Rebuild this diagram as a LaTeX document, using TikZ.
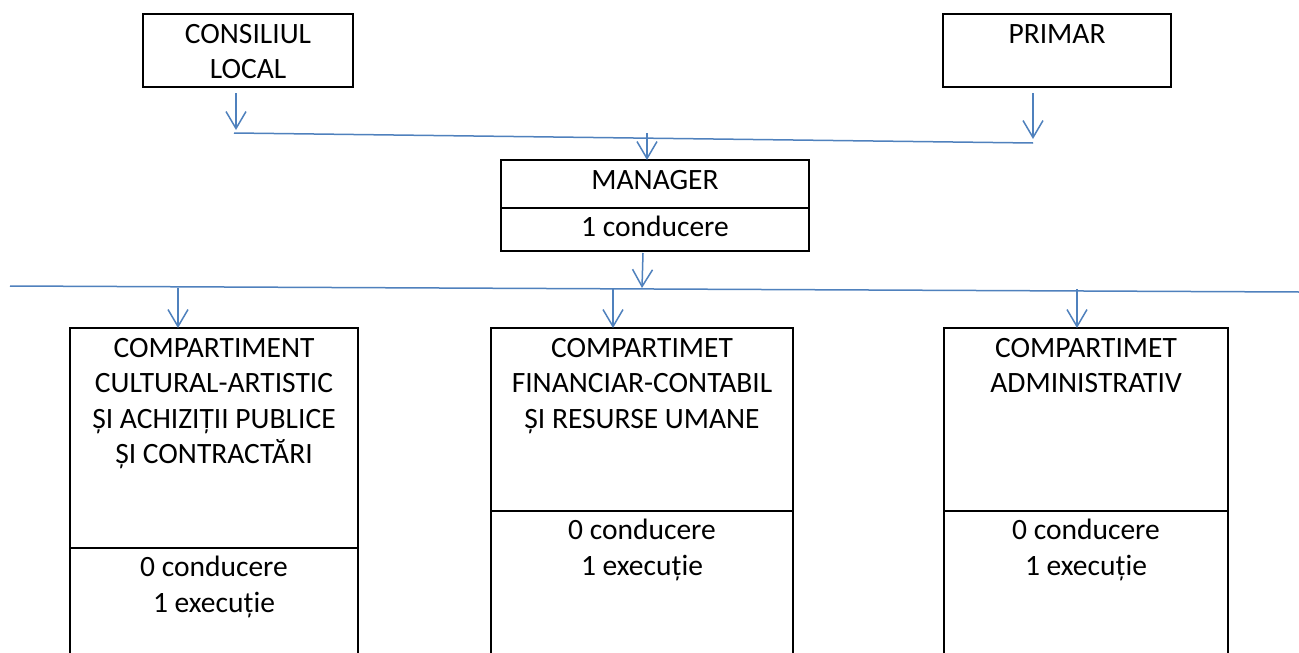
\documentclass[tikz,border=0pt]{standalone}
\usepackage{fontspec}
\setmainfont{Carlito}
\usetikzlibrary{arrows.meta}
\definecolor{lineblue}{HTML}{4F81BD}
\tikzset{
  box/.style={draw=black, line width=2pt, inner sep=0pt, outer sep=0pt},
  txt/.style={inner sep=0pt, anchor=base, font=\fontsize{29.5}{35}\selectfont},
  conn/.style={draw=lineblue, line width=1.5pt},
  arr/.style={conn, -{Straight Barb[length=17pt,width=20pt,line width=1.5pt]}}
}
\begin{document}
\begin{tikzpicture}[x=1pt,y=-1pt]
\useasboundingbox (0,0) rectangle (1299,653);
\clip (0,0) rectangle (1299,653);
\fill[white] (0,0) rectangle (1299,653);
% top boxes
\node[box, minimum width=210pt, minimum height=73pt] (cl) at (248,50.5) {};
\node[txt] (cl1) at (248,43) {CONSILIUL};
\node[txt] (cl2) at (248,78) {LOCAL};
\node[box, minimum width=228pt, minimum height=73pt] (pr) at (1057,50.5) {};
\node[txt] (pr1) at (1057,43) {PRIMAR};
% manager
\node[box, minimum width=308pt, minimum height=48pt] (mg) at (655,184) {};
\node[box, minimum width=308pt, minimum height=43pt] (mgb) at (655,229.5) {};
\node[txt] (mg1) at (655,189) {MANAGER};
\node[txt] (mg2) at (655,236) {1 conducere};
% bottom boxes
\node[box, minimum width=288pt, minimum height=220pt] (ca) at (214,438) {};
\node[box, minimum width=288pt, minimum height=152pt] (cab) at (214,624) {};
\node[txt] (ca1) at (214,357) {COMPARTIMENT};
\node[txt] (ca2) at (214,392.5) {CULTURAL-ARTISTIC};
\node[txt] (ca3) at (214,428) {ȘI ACHIZIȚII PUBLICE};
\node[txt] (ca4) at (214,463) {ȘI CONTRACTĂRI};
\node[txt] (ca5) at (214,576) {0 conducere};
\node[txt] (ca6) at (214,612) {1 execuție};
\node[box, minimum width=302pt, minimum height=183pt] (fc) at (642,419.5) {};
\node[box, minimum width=302pt, minimum height=189pt] (fcb) at (642,605.5) {};
\node[txt] (fc1) at (642,357) {COMPARTIMET};
\node[txt] (fc2) at (642,392.5) {FINANCIAR-CONTABIL};
\node[txt] (fc3) at (642,428) {ȘI RESURSE UMANE};
\node[txt] (fc4) at (642,539) {0 conducere};
\node[txt] (fc5) at (642,575) {1 execuție};
\node[box, minimum width=284pt, minimum height=183pt] (ad) at (1086,419.5) {};
\node[box, minimum width=284pt, minimum height=189pt] (adb) at (1086,605.5) {};
\node[txt] (ad1) at (1086,357) {COMPARTIMET};
\node[txt] (ad2) at (1086,392.5) {ADMINISTRATIV};
\node[txt] (ad3) at (1086,539) {0 conducere};
\node[txt] (ad4) at (1086,575) {1 execuție};
% connectors
\coordinate (l1a) at (234,133);
\coordinate (l1b) at (1033,143);
\coordinate (l2a) at (10,286);
\coordinate (l2b) at (1299,292);
\coordinate (acl) at (236,93);
\coordinate (acl2) at (236,130);
\coordinate (apr) at (1033,93);
\coordinate (apr2) at (1033,139);
\coordinate (amg) at (647,133);
\coordinate (amo) at (642,288);
\coordinate (aca) at (178,288);
\coordinate (afc) at (613,289);
\coordinate (aad) at (1077,289);
\draw[conn] (l1a) -- (l1b);
\draw[conn] (l2a) -- (l2b);
\draw[arr] (acl) -- (acl2);
\draw[arr] (apr) -- (apr2);
\draw[arr] (amg) -- (amg |- mg.north);
\draw[arr] (643,253) -- (amo);
\draw[arr] (aca) -- (aca |- ca.north);
\draw[arr] (afc) -- (afc |- fc.north);
\draw[arr] (aad) -- (aad |- ad.north);
\end{tikzpicture}
\end{document}
